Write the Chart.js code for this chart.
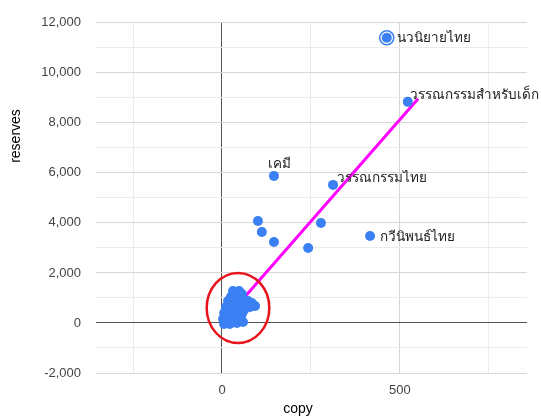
<!DOCTYPE html>
<html><head><meta charset="utf-8">
<script src="https://cdn.jsdelivr.net/npm/chart.js@4.4.1/dist/chart.umd.min.js"></script>
<style>html,body{margin:0;padding:0;background:#fff}</style>
</head><body>
<canvas id="c" width="541" height="417"></canvas>
<script>
// ---- data ----
const copies   = [463, 522, 146, 312, 416, 101, 112, 146, 278, 242,
  31, 48, 39, 56, 25, 51, 73, 84, 93, 79, 17, 34, 51, 62, 11, 28, 45, 62, 6, 22,
  39, 56, 3, 20, 37, 53, 6, 22, 42, 59];
const reserves = [11400, 8840, 5880, 5520, 3480, 4080, 3640, 3240, 4000, 3000,
  1280, 1280, 1120, 1160, 1040, 1000, 880, 800, 680, 640, 880, 880, 800, 680, 640, 640, 560, 520, 400, 400,
  320, 360, 160, 160, 80, 120, -40, -40, 0, 40];
const names    = ["นวนิยายไทย", "วรรณกรรมสำหรับเด็ก", "เคมี", "วรรณกรรมไทย", "กวีนิพนธ์ไทย"];
const trendCopy     = [0, 551];
const trendReserves = [0, 8960];
const xTickValues = [-250, 0, 250, 500, 750];
const yTickValues = [-2000, -1000, 0, 1000, 2000, 3000, 4000, 5000, 6000, 7000, 8000, 9000, 10000, 11000, 12000];
const highlightIndex = 0;
// circled cluster annotation (data units)
const ringCenter = {x: 45, y: 600};
const ringRadius = {x: 88, y: 1400};

// ---- styles ----
const BLUE = '#3a80f3';
const labelOffsets = [[10, 0, 'left'], [2, -7, 'left'], [-6, -12, 'left'], [4, -7, 'left'], [10, 1, 'left']];

const points = copies.map((c, i) => ({x: c, y: reserves[i]}));
const trend = trendCopy.map((c, i) => ({x: c, y: trendReserves[i]}));

const fmt = v => v.toLocaleString('en-US');
function gridColor(ctx, major) {
  const v = ctx.tick && ctx.tick.value;
  if (v === 0) return '#555555';
  return (v % major === 0) ? '#d6d6d6' : '#ececec';
}

const overlay = {
  id: 'overlay',
  afterDatasetsDraw(chart) {
    const {ctx, scales: {x, y}} = chart;
    const meta = chart.getDatasetMeta(1);
    ctx.save();
    // highlight ring
    const hp = meta.data[highlightIndex];
    ctx.beginPath();
    ctx.arc(hp.x, hp.y, 7, 0, Math.PI * 2);
    ctx.strokeStyle = BLUE; ctx.lineWidth = 1.5; ctx.stroke();
    // labels
    ctx.font = '13.5px Arial, "Liberation Sans", sans-serif';
    ctx.fillStyle = '#222';
    ctx.textBaseline = 'middle';
    names.forEach((n, i) => {
      const p = meta.data[i];
      const o = labelOffsets[i];
      ctx.textAlign = o[2];
      ctx.fillText(n, p.x + o[0], p.y + o[1]);
    });
    // red ellipse
    const cx = x.getPixelForValue(ringCenter.x), cy = y.getPixelForValue(ringCenter.y);
    const rx = Math.abs(x.getPixelForValue(ringCenter.x + ringRadius.x) - cx);
    const ry = Math.abs(y.getPixelForValue(ringCenter.y + ringRadius.y) - cy);
    ctx.beginPath();
    ctx.ellipse(cx, cy, rx, ry, 0, 0, Math.PI * 2);
    ctx.strokeStyle = '#e8141b'; ctx.lineWidth = 2.5; ctx.stroke();
    // axis titles
    ctx.fillStyle = '#000';
    ctx.font = '14px Arial, "Liberation Sans", sans-serif';
    ctx.textAlign = 'center';
    ctx.fillText('copy', 298, 409);
    ctx.translate(16, 136);
    ctx.rotate(-Math.PI / 2);
    ctx.fillText('reserves', 0, 0);
    ctx.restore();
  }
};

new Chart(document.getElementById('c'), {
  type: 'scatter',
  data: {
    datasets: [
      {type: 'line', data: trend, borderColor: '#ff00ff', borderWidth: 3, pointRadius: 0, fill: false, order: 2},
      {data: points, backgroundColor: BLUE, borderWidth: 0, pointRadius: 5, order: 1}
    ]
  },
  options: {
    responsive: false, animation: false, devicePixelRatio: 1, events: [],
    layout: {padding: {top: 22, right: 14, left: 0, bottom: 0}},
    plugins: {legend: {display: false}, tooltip: {enabled: false}},
    scales: {
      x: {
        type: 'linear', min: -354, max: 857,
        afterBuildTicks: s => { s.ticks = xTickValues.map(v => ({value: v})); },
        afterFit: s => { s.height = 44; },
        border: {display: false},
        grid: {color: c => gridColor(c, 500), drawTicks: false, lineWidth: 1},
        ticks: {autoSkip: false, maxRotation: 0, padding: 10, color: '#444',
          font: {family: 'Arial, "Liberation Sans", sans-serif', size: 13},
          callback: v => (v % 500 === 0 ? fmt(v) : '')}
      },
      y: {
        min: -2000, max: 12000,
        afterBuildTicks: s => { s.ticks = yTickValues.map(v => ({value: v})); },
        afterFit: s => { s.width = 96; },
        border: {display: false},
        grid: {color: c => gridColor(c, 2000), drawTicks: false, lineWidth: 1},
        ticks: {autoSkip: false, padding: 15, color: '#444',
          font: {family: 'Arial, "Liberation Sans", sans-serif', size: 13},
          callback: v => (v % 2000 === 0 ? fmt(v) : '')}
      }
    }
  },
  plugins: [overlay]
});
</script>
</body></html>
